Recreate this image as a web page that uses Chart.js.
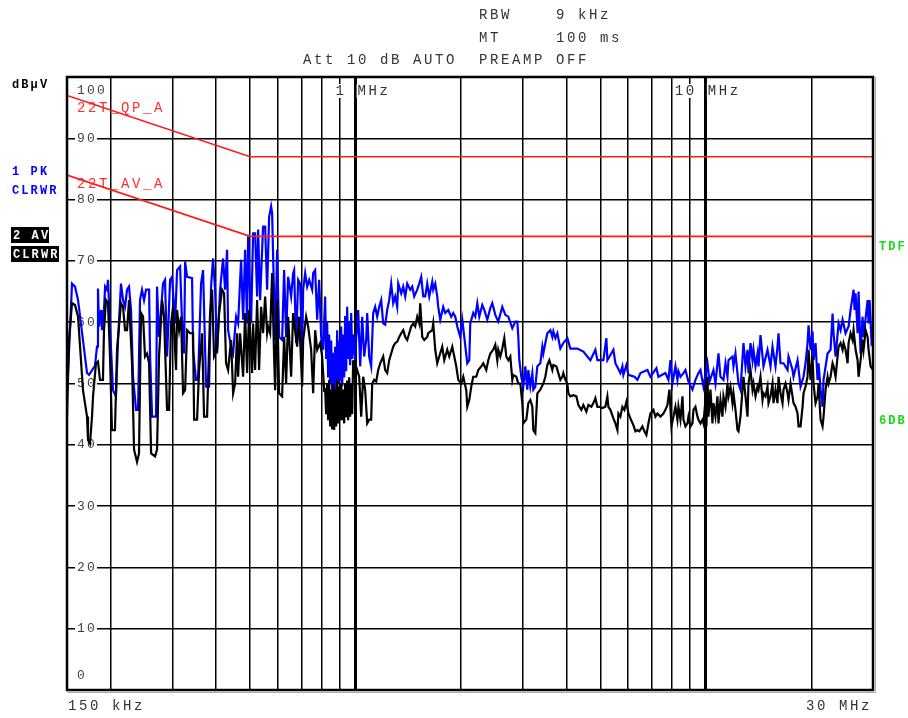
<!DOCTYPE html>
<html>
<head>
<meta charset="utf-8">
<script src="https://cdn.jsdelivr.net/npm/chart.js@4.4.1/dist/chart.umd.min.js"></script>
<style>
  html, body { margin: 0; padding: 0; background: #fff; }
  #wrap { width: 908px; height: 718px; }
</style>
</head>
<body>
<div id="wrap"><canvas id="emiChart" width="908" height="718" style="width:908px;height:718px"></canvas></div>
<script>
// frequency in kHz, level in dBuV

// trace 1 : peak, clear/write
const pkFreq = [
  150, 153, 155, 158.1, 161.3, 171.1, 173.4, 180.3, 182.7, 183.9, 185.1, 187.6, 188.8, 191.3, 192.7, 195.1, 196.4, 199,
  202.9, 207, 209.8, 213.9, 216.8, 219.7, 222.6, 225.5, 228.5, 231.5, 236.2, 239.3, 242.4, 245.6, 248.9, 252.2, 257.3, 259,
  262.4, 269.4, 271.1, 274.7, 282, 285.7, 289.6, 295.4, 299.3, 305.2, 309.3, 315.5, 319.6, 323.9, 326, 330.3, 341.3, 343.6,
  350.4, 355, 362.1, 366.9, 374.2, 381.7, 386.7, 391.8, 397, 402.3, 410.3, 418.5, 424, 429.7, 432.5, 441.1, 447, 455.9,
  461.9, 471.1, 477.4, 483.7, 490.1, 493.3, 503.1, 509.8, 516.6, 523.4, 526.9, 533.8, 544.4, 551.7, 559, 566.4, 573.9, 577.7,
  581.5, 589.2, 597, 604.9, 616.9, 625.1, 633.4, 641.8, 654.6, 663.2, 667.6, 676.4, 685.5, 694.6, 703.7, 708.4, 717.8, 727.3,
  736.9, 751.6, 756.5, 766.6, 776.7, 787, 797.4, 807.9,
  818.6, 824, 829.5, 835, 840.5, 846, 851.6, 857.2, 862.9, 868.6, 874.3, 880, 885.9, 891.7, 897.6, 903.5,
  909.5, 915.5, 921.5, 927.6, 933.7, 939.9, 946.2, 952.4, 958.7, 965, 971.4, 977.8, 984.2, 997.3, 1003.9, 1010.5,
  1017.2, 1030.6, 1044.3, 1058.1, 1072, 1079.2, 1093.4, 1107.9, 1122.6, 1137.5,
  1152.6, 1167.8, 1183.3, 1198.9, 1214.8, 1231, 1247.2, 1263.7, 1280.5, 1297.5, 1314.7, 1323.4, 1349.7, 1367.6, 1385.7, 1404.1, 1432, 1451,
  1470.2, 1499.6, 1519.4, 1539.5, 1559.9, 1580.6, 1601.5, 1622.6, 1655, 1665.9, 1688, 1710.4, 1721.7, 1744.4, 1779.2, 1802.8, 1838.9, 1875.4,
  1900.3, 1925.5, 1951, 1989.8, 2016.2, 2042.9, 2083.7, 2111.2, 2125.2, 2167.5, 2196.2, 2225.4, 2254.8, 2299.7, 2330.2, 2376.7, 2424, 2456.1,
  2505, 2555.1, 2623.1, 2675.4, 2728.8, 2801.4, 2857.3, 2895.3, 2914.4, 2933.5, 2972.3, 3011.7, 3051.6, 3092.2, 3112.6, 3153.7, 3195.5, 3216.5,
  3259.2, 3302.5, 3368.2, 3412.8, 3435.3, 3480.8, 3527, 3597.2, 3644.8, 3668.8, 3717.5, 3766.9, 3841.9, 3918.3, 4023, 4103.1, 4296.6, 4469.3,
  4680.1, 4836.6, 4900.8, 5097.8, 5199.3, 5234.1, 5444.5, 5516.7, 5701.2, 5776.7, 5814.7, 5930.4, 6009.5, 6251.3, 6376.1, 6503, 6809.7, 6945.2,
  7224.4, 7320.8, 7665.5, 7818.6, 7921.9, 8026.7, 8186.7, 8295.5, 8350.3, 8460.6, 8629, 8743.5, 8918.1, 9155.5, 9338, 9524.5, 9650.3, 9842.4,
  10105, 10238, 10511, 10651, 10863, 11007, 11226, 11375, 11526, 11602, 11911, 11989, 12148, 12391, 12555, 12805, 12975, 13147,
  13234, 13409, 13586, 13676, 13857, 14041, 14134, 14320, 14605, 14996, 15294, 15497, 15806, 16015, 16121, 16334, 16659, 17104,
  17217, 17675, 17792, 18268, 18632, 19002, 19254, 19510, 19639, 19898, 20162, 20294, 20564, 20837, 20975, 21252, 21533, 21675,
  22254, 22697, 22997, 23149, 23456, 23924, 24240, 24561, 25050, 25551, 25888, 26403, 26578, 26754, 27109, 27288, 27648, 28014,
  28199, 28953, 29144, 29335, 29723, 30000
];
const pkLevel = [
  48.4, 58.7, 66.3, 65.8, 63.6, 51.7, 51.4, 52.9, 56, 65.5, 59.3, 62, 58.7, 62, 65.8, 65.3, 66.9, 59.3,
  48.9, 47.9, 57.1, 66.3, 63.6, 62.5, 65.3, 65.8, 62, 51.1, 45.7, 45.7, 63.6, 65.3, 63.6, 65.3, 65.3, 54.4,
  44.6, 44.6, 65.8, 57.6, 66.3, 66.9, 54.4, 66.9, 67.4, 59.8, 68.5, 69.1, 59.8, 54.9, 69.9, 67.4, 67.2, 55.5,
  50.6, 50.6, 66.3, 68.5, 49.5, 49.5, 65.8, 70.4, 65.3, 54.9, 65.3, 70.4, 65.3, 71.8, 58.7, 56, 54.9, 60.9,
  59.8, 70.2, 60.4, 71.8, 59.8, 74, 59.8, 74.5, 74.5, 64.2, 75.1, 63.6, 75.6, 75.6, 65.3, 77.2, 78.9, 77.8,
  70.7, 57.1, 71.8, 57.6, 57.1, 68.5, 57.6, 67.4, 64.2, 68, 68.5, 56.6, 66.9, 66.3, 54.9, 65.3, 68, 65.8,
  66.9, 65.3, 68, 68.5, 60.4, 66.9, 57.6, 55.5,
  64.2, 54, 60, 51, 58, 50, 57, 49, 55, 48.5, 56, 49, 58.7, 50, 57, 50.5,
  59.3, 49.5, 58, 51, 61, 52, 62.5, 54, 60, 53, 61.5, 54, 58, 53.8, 57.6, 58.7,
  62, 52.8, 60.9, 54.4, 57.1, 61.5, 54.4, 52.8, 61.5, 62.5,
  60.9, 62.5, 63.6, 59.8, 59.6, 62, 63.6, 66.3, 63.1, 64.2, 62.5, 66.3, 64.7, 65.8, 64.2, 66.3, 65.3, 65.8,
  64.2, 65.3, 66.3, 67.4, 64.2, 64.2, 66.3, 64.2, 66.6, 65.3, 66.3, 64.2, 62.5, 60.4, 62.5, 61.5, 62, 60.9,
  61.5, 60.9, 59.3, 57.6, 60.4, 57.6, 53.3, 53.8, 59.8, 61.5, 60.9, 63.1, 60.9, 62.8, 62, 60.4, 62.3, 63.1,
  61.2, 60.1, 62.5, 61.2, 60.9, 59, 60.1, 60.1, 57.6, 53.8, 51.1, 49.5, 52.8, 49, 52.2, 49.5, 51.7, 49,
  49.5, 52.8, 53.3, 56, 54.9, 56.6, 58.2, 58.7, 57.6, 58.5, 57.4, 58.2, 55.7, 56.6, 57.4, 55.7, 55.7, 55.2,
  53.8, 55.5, 53.8, 53.8, 57.4, 53.8, 55.5, 53.3, 51.7, 52.8, 51.4, 53, 51.4, 51.1, 50.6, 51.7, 52.2, 51.1,
  52.5, 51.1, 51.7, 50.6, 53.8, 50, 52.8, 50.6, 52, 51.1, 51.7, 52.2, 50.3, 49, 50.6, 51.7, 52.2, 49.5,
  53.3, 50.3, 52.2, 50, 54.9, 51.1, 50.6, 53.3, 51.1, 53.8, 54.4, 52.8, 54.9, 50, 49, 56.6, 52.8, 55.5,
  51.7, 56.6, 53.8, 55.5, 52.8, 54.9, 52.8, 57.9, 52.8, 55.5, 52.8, 56, 52.8, 56, 58.2, 53.3, 53.3, 52.2,
  54.4, 52.2, 51.1, 53.8, 49.5, 51.1, 53.3, 56.6, 59.5, 55.5, 58.5, 53.8, 56.6, 50.6, 53.3, 49, 46.2, 50.6,
  54.9, 55.5, 61.4, 58.2, 54.4, 59.8, 58.7, 60.4, 58.2, 59.3, 62, 65.3, 62, 64.7, 58.2, 65, 54.9, 60.9,
  57.6, 63.6, 59.8, 63.6, 56.6, 57.1
];

// trace 2 : average, clear/write
const avFreq = [
  150, 152, 155, 158.1, 161.3, 166.6, 171.1, 172.2, 174.5, 176.8, 178, 181.5, 183.9, 186.3, 190, 191.3, 193.8, 196.4,
  199, 201.6, 205.6, 208.4, 213.9, 216.8, 219.7, 222.6, 225.5, 230, 233.1, 237.7, 240.8, 244, 247.3, 250.5, 253.9, 257.3,
  260.7, 267.6, 271.1, 274.7, 280.2, 283.9, 289.6, 293.4, 297.3, 301.2, 307.2, 309.3, 313.4, 317.5, 321.7, 326, 330.3, 336.9,
  343.6, 345.9, 352.7, 357.4, 364.5, 369.3, 376.7, 384.2, 389.3, 394.4, 402.3, 407.6, 415.7, 421.2, 426.8, 432.5, 441.1, 447,
  452.9, 458.9, 461.9, 468, 477.4, 483.7, 490.1, 496.6, 506.5, 509.8, 516.6, 523.4, 530.3, 537.3, 544.4, 551.7, 559, 562.7,
  570.1, 577.7, 585.3, 589.2, 597, 604.9, 616.9, 625.1, 633.4, 641.8, 654.6, 663.2, 672, 681, 689.9, 703.7, 708.4, 722.5,
  732.1, 746.6, 756.5, 766.6, 776.7, 792.2, 802.6, 813.3,
  818.6, 824, 829.5, 835, 840.5, 846, 851.6, 857.2, 862.9, 868.6, 874.3, 880, 885.9, 891.7, 897.6, 903.5,
  909.5, 915.5, 921.5, 927.6, 933.7, 939.9, 946.2, 952.4, 958.7, 965, 971.4, 977.8, 984.2, 997.3, 1010.5,
  1023.8, 1037.4, 1051.1, 1065.1, 1079.2, 1093.4, 1107.9, 1115.3, 1130, 1145, 1160.2,
  1175.5, 1198.9, 1214.8, 1231, 1247.2, 1263.7, 1280.5, 1297.5, 1314.7, 1332.1, 1349.7, 1367.6, 1385.7, 1404.1, 1422.6, 1441.5, 1460.3, 1479.6,
  1499.6, 1519.4, 1529.4, 1549.7, 1570.2, 1601.5, 1612.1, 1655, 1665.9, 1688, 1710.4, 1733, 1767.6, 1791, 1826.8, 1850.9, 1887.9, 1912.9,
  1938.1, 1963.9, 2003, 2029.5, 2069.9, 2083.7, 2111.2, 2139.1, 2167.5, 2210.6, 2240.1, 2284.6, 2314.9, 2360.9, 2392.4, 2424, 2472.3, 2505,
  2538.3, 2555.1, 2588.8, 2623.1, 2657.9, 2692.9, 2728.8, 2764.9, 2801.4, 2819.9, 2876.1, 2914.4, 2953, 2991.9, 3011.7, 3071.7, 3112.6, 3153.7,
  3195.5, 3216.5, 3259.2, 3302.5, 3368.2, 3435.3, 3480.8, 3527, 3573.6, 3644.8, 3668.8, 3741.8, 3791.8, 3841.9, 3892.7, 3918.3, 3970.3, 4023,
  4049.6, 4103.1, 4184.7, 4268.1, 4325, 4410.9, 4469.3, 4558.2, 4619.1, 4710.9, 4773.3, 4836.6, 4900.8, 4965.5, 5064.5, 5165.4, 5234.1, 5268.6,
  5338.5, 5444.5, 5516.7, 5590, 5626.9, 5701.2, 5776.7, 5853.4, 5930.4, 6009.5, 6088.9, 6210.1, 6292.6, 6376.1, 6460.2, 6589, 6676.4, 6764.5,
  6854.6, 6945.2, 7083.5, 7177.4, 7272.8, 7417.4, 7565.1, 7665.5, 7767.3, 7869.8, 7974.1, 8079.5, 8186.7, 8295.5, 8350.3, 8460.6, 8573.9, 8629,
  8743.5, 8859.6, 8918.1, 9036.1, 9155.5, 9215.8, 9338, 9462, 9524.5, 9650.3, 9778, 9842.4, 9972.9, 10038, 10105, 10172, 10306, 10443,
  10511, 10651, 10792, 10863, 11007, 11152, 11226, 11375, 11526, 11602, 11755, 11911, 11989, 12148, 12310, 12391, 12555, 12721,
  12805, 12975, 13147, 13234, 13409, 13586, 13676, 13857, 14041, 14134, 14320, 14510, 14605, 14799, 14996, 15095, 15294, 15497,
  15599, 15806, 16015, 16121, 16334, 16550, 16659, 16880, 17104, 17217, 17444, 17675, 17792, 18028, 18268, 18389, 18632, 18878,
  19002, 19254, 19510, 19639, 19898, 20162, 20294, 20564, 20837, 20975, 21252, 21533, 21675, 21963, 22254, 22401, 22697, 22997,
  23149, 23456, 23767, 23924, 24240, 24561, 24723, 25050, 25383, 25551, 25888, 26231, 26403, 26754, 27109, 27288, 27648, 28014,
  28199, 28573, 28953, 29144, 29530, 30000
];
const avLevel = [
  44.6, 57.1, 63.1, 62.8, 60.9, 48.9, 44.6, 40.8, 40.2, 44.6, 47.9, 53.3, 53.6, 50.6, 50.6, 58.7, 63.6, 63.1,
  54.4, 42.4, 42.4, 55.5, 63.1, 62.5, 58.7, 58.7, 63.6, 53.3, 39.2, 37.2, 38.6, 61.5, 60.9, 54.4, 54.9, 53.3,
  38.6, 38.1, 39.2, 54.4, 63.6, 60.9, 45.7, 45.7, 59.8, 62.5, 52.2, 62, 58.7, 60.9, 48.4, 48.9, 58.7, 58.2,
  58.2, 44.1, 44.1, 52.2, 58.2, 44.6, 44.6, 61.5, 65.3, 54.4, 55.5, 61.5, 65.3, 64.7, 53.3, 52.2, 57.1, 48.4,
  50, 58.2, 51.1, 58.2, 51.1, 61.5, 51.7, 62, 51.7, 59.8, 52.2, 63.6, 52.2, 62.5, 58.2, 64.2, 58.2, 59.3,
  58.2, 68, 54.4, 48.9, 63.6, 48.4, 47.9, 57.6, 50, 60.9, 51.1, 61.5, 58.7, 56, 60.9, 49.5, 57.1, 60.9,
  59.3, 55.5, 48.4, 58.7, 55.5, 56.6, 54.4, 48.9,
  49, 45, 50, 44, 50.6, 43, 49, 42.5, 50, 42.4, 49, 43, 50.6, 43.5, 49.5, 44,
  50, 44, 49, 43.5, 50, 44.5, 50.5, 44, 51, 44.6, 50, 45, 53.8, 51.1, 52.2,
  51.1, 44.6, 51.1, 48.9, 43.5, 44.1, 44.1, 50, 50.6, 50.3, 52.2,
  53.3, 54.4, 52.2, 51.7, 53.8, 54.9, 56, 56.6, 56.8, 57.6, 58.2, 58.7, 57.6, 57.1, 58.2, 59.3, 59.8, 59.3,
  60.9, 59.8, 63.1, 57.6, 57.1, 57.6, 58.2, 58.7, 59.8, 55.5, 53.3, 54.4, 56, 53.8, 55.5, 54.4, 56, 54.4,
  52.8, 50.6, 50, 51.1, 48.9, 46.2, 47.3, 49.5, 51.1, 51.1, 52.2, 52.8, 53.3, 52.2, 53.8, 54.9, 55.5, 56.3,
  53.8, 55.5, 54.4, 55.7, 57.4, 54.4, 53.8, 54.4, 50.6, 51.4, 51.1, 50, 50, 46.8, 43.5, 44.1, 46.8, 47.3,
  46.2, 42.4, 41.9, 48.4, 49, 50, 51.1, 53, 53.8, 52.2, 53, 52.8, 51.7, 50.6, 51.1, 51.7, 50.6, 50,
  48.4, 47.9, 48.1, 47.9, 46.5, 45.7, 46.5, 45.4, 46.5, 46.2, 46.8, 47.6, 46.2, 46.2, 46, 46.2, 47.9, 46.2,
  45.7, 44.3, 43.5, 42.4, 45.1, 44.6, 46.2, 45.7, 47, 45.1, 44.3, 43.2, 42.2, 42.4, 42.2, 43, 42.2, 41.6,
  43.5, 45.1, 45.7, 44.6, 45.1, 44.6, 45.1, 45.7, 46.5, 49, 43, 44.6, 46.2, 44.1, 46.2, 44.1, 47.9, 44.1,
  43, 43.5, 44.6, 43, 43.5, 45.7, 46.2, 44.6, 44.1, 43.5, 44.1, 43.5, 47.3, 43, 51.1, 44.6, 49, 43.5,
  46.8, 44.6, 47.9, 43.5, 47.3, 44.6, 47.9, 46.2, 50, 47.9, 49.5, 46.8, 48.4, 45.7, 42.4, 42.2, 44.6, 49,
  51.1, 47.9, 44.6, 50, 52.2, 49, 50, 47.9, 49.5, 49, 51.1, 47.3, 48.4, 47.9, 49.5, 46.8, 47.9, 50,
  46.8, 49, 46.8, 51.1, 48.4, 46.8, 49, 50, 48.4, 47.3, 50, 47.9, 46.8, 46.2, 45.1, 43, 43, 46.2,
  48.4, 49.5, 51.1, 55.5, 50.6, 54.4, 50, 46.8, 47.9, 50, 44.1, 43, 44.6, 49, 51.1, 50, 51.1, 53.3,
  52.8, 51.1, 54.4, 56, 56.6, 55.5, 56.6, 55.5, 53.3, 56.6, 58.2, 57.1, 58.7, 55.5, 53.8, 51.1, 53.8, 57.1,
  55.5, 58.7, 57.6, 55.5, 52.8, 52.2
];

// limit lines (CISPR 22 telecom port, class A)
const limitFreq = [150, 500, 30000];
const limitQP = [97, 87, 87];
const limitAV = [84, 74, 74];

// axis grid and labels
const gridFreqs = [150, 200, 300, 400, 500, 600, 700, 800, 900, 1000, 2000, 3000, 4000, 5000, 6000, 7000, 8000, 9000, 10000, 20000, 30000];
const decadeFreqs = [1000, 10000];
const levelTicks = [0, 10, 20, 30, 40, 50, 60, 70, 80, 90, 100];
const freqLabels = [{ f: 1000, text: '1 MHz' }, { f: 10000, text: '10 MHz' }];

const toPoints = (xs, ys) => xs.map((x, i) => ({ x: x, y: ys[i] }));

// draws letter-spaced monospace text, one glyph per cell
function mono(ctx, str, x, y, step, font, color, back) {
  ctx.save();
  ctx.font = font;
  ctx.textBaseline = 'middle';
  ctx.textAlign = 'left';
  for (let i = 0; i < str.length; i++) {
    const ch = str[i];
    if (ch === ' ') continue;
    const cx = x + i * step;
    if (back) {
      ctx.fillStyle = back;
      ctx.fillRect(cx - 1, y - 7, step, 14);
    }
    ctx.fillStyle = color;
    ctx.fillText(ch, cx, y);
  }
  ctx.restore();
}

const HEAD = '14px "Liberation Mono", "DejaVu Sans Mono", monospace';
const TICK = '13px "Liberation Mono", "DejaVu Sans Mono", monospace';
const BOLD = 'bold 12px "Liberation Mono", "DejaVu Sans Mono", monospace';

const emiLabels = {
  id: 'emiLabels',
  beforeDatasetsDraw(chart) {
    const ctx = chart.ctx;
    const ya = chart.scales.y;
    const xa = chart.scales.x;
    const area = chart.chartArea;
    // level labels inside the diagram
    levelTicks.forEach(v => {
      let y = ya.getPixelForValue(v);
      if (v === 100) y = area.top + 14;
      if (v === 0) y = area.bottom - 14;
      const txt = String(v);
      ctx.fillStyle = '#fff';
      if (v !== 100 && v !== 0) ctx.fillRect(area.left + 8, y - 6, txt.length * 10 + 2, 12);
      mono(ctx, txt, area.left + 10, y, 10, TICK, '#444', null);
    });
    // decade labels at the top
    freqLabels.forEach(l => {
      const x = xa.getPixelForValue(l.f) - (l.text.indexOf('M') * 11 - 2);
      mono(ctx, l.text, x, area.top + 14, 11, HEAD, '#333', '#fff');
    });
    // limit line names
    mono(ctx, '22T_QP_A', area.left + 10, 108, 11, HEAD, '#ff3030', null);
    mono(ctx, '22T_AV_A', area.left + 10, 184, 11, HEAD, '#ff3030', null);
  },
  afterDatasetsDraw(chart) {
    const ctx = chart.ctx;
    const a = chart.chartArea;
    ctx.save();
    ctx.strokeStyle = '#aaa';
    ctx.lineWidth = 1;
    ctx.beginPath();
    ctx.moveTo(a.right + 2.5, a.top);
    ctx.lineTo(a.right + 2.5, a.bottom + 2.5);
    ctx.lineTo(a.left, a.bottom + 2.5);
    ctx.stroke();
    ctx.strokeStyle = '#000';
    ctx.lineWidth = 2.5;
    ctx.strokeRect(a.left, a.top, a.right - a.left, a.bottom - a.top);
    ctx.restore();
  },
  afterDraw(chart) {
    const ctx = chart.ctx;
    const a = chart.chartArea;
    // instrument settings
    mono(ctx, 'RBW    9 kHz', 479, 15, 11, HEAD, '#333', null);
    mono(ctx, 'MT     100 ms', 479, 38, 11, HEAD, '#333', null);
    mono(ctx, 'Att 10 dB AUTO  PREAMP OFF', 303, 60, 11, HEAD, '#333', null);
    // span
    mono(ctx, '150 kHz', a.left + 1, a.bottom + 16, 11, HEAD, '#333', null);
    mono(ctx, '30 MHz', a.right - 67, a.bottom + 16, 11, HEAD, '#333', null);
    // unit and trace info
    mono(ctx, 'dB\u00b5V', 12, 85, 9.3, BOLD, '#000', null);
    mono(ctx, '1 PK', 12, 172, 9.3, BOLD, '#0000ff', null);
    mono(ctx, 'CLRWR', 12, 191, 9.3, BOLD, '#0000ff', null);
    ctx.fillStyle = '#000';
    ctx.fillRect(11, 227, 38, 16);
    ctx.fillRect(11, 246, 48, 16);
    mono(ctx, '2 AV', 13, 235.5, 9.3, BOLD, '#fff', null);
    mono(ctx, 'CLRWR', 13, 254.5, 9.3, BOLD, '#fff', null);
    // line names on the right
    mono(ctx, 'TDF', 879, 247, 9.3, BOLD, '#16d816', null);
    mono(ctx, '6DB', 879, 421, 9.3, BOLD, '#16d816', null);
  }
};

const emiChart = new Chart(document.querySelector('#emiChart'), {
  type: 'line',
  data: {
    datasets: [
      {
        label: '22T_QP_A',
        data: toPoints(limitFreq, limitQP),
        borderColor: '#ff1a1a',
        borderWidth: 1.6,
        order: 0,
      },
      {
        label: '22T_AV_A',
        data: toPoints(limitFreq, limitAV),
        borderColor: '#ff1a1a',
        borderWidth: 1.6,
        order: 0,
      },
      {
        label: '2 AV CLRWR',
        data: toPoints(avFreq, avLevel),
        borderColor: '#000000',
        borderWidth: 2.2,
        order: 1,
      },
      {
        label: '1 PK CLRWR',
        data: toPoints(pkFreq, pkLevel),
        borderColor: '#0000ff',
        borderWidth: 2.2,
        order: 2,
      },
    ],
  },
  options: {
    responsive: false,
    devicePixelRatio: 1,
    animation: false,
    layout: { padding: { left: 67, right: 35, top: 77, bottom: 28 } },
    elements: {
      point: { radius: 0 },
      line: { tension: 0, fill: false },
    },
    scales: {
      x: {
        type: 'logarithmic',
        min: 150,
        max: 30000,
        afterBuildTicks: (scale) => {
          scale.ticks = gridFreqs.map(v => ({ value: v }));
        },
        ticks: { display: false },
        grid: {
          color: '#000',
          lineWidth: (c) => (c.tick && decadeFreqs.includes(c.tick.value) ? 3 : 1.5),
          drawTicks: false,
        },
        border: { display: false },
      },
      y: {
        min: 0,
        max: 100,
        afterBuildTicks: (scale) => {
          scale.ticks = levelTicks.map(v => ({ value: v }));
        },
        ticks: { display: false },
        grid: { color: '#000', lineWidth: 1.5, drawTicks: false },
        border: { display: false },
      },
    },
    plugins: {
      legend: { display: false },
      tooltip: { enabled: false },
    },
  },
  plugins: [emiLabels],
});
</script>
</body>
</html>
